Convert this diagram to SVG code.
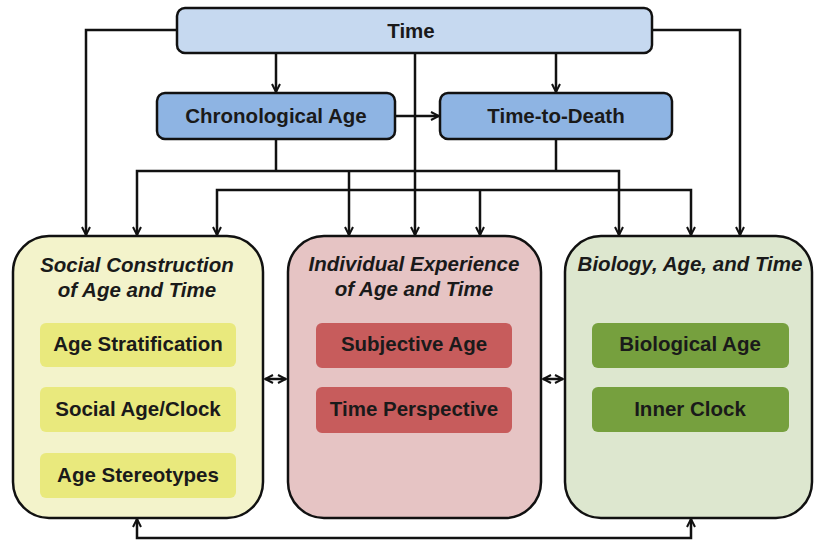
<svg xmlns="http://www.w3.org/2000/svg" width="815" height="543" viewBox="0 0 815 543">
  <style>
    text { font-family: "Liberation Sans", Arial, sans-serif; font-weight: bold; font-size: 20.5px; fill: #1a1a1a; text-anchor: middle; dominant-baseline: central; }
    .title { font-style: italic; dominant-baseline: alphabetic; }
    .box { stroke: #111; stroke-width: 2.5; }
    .conn { fill: none; stroke: #111; stroke-width: 2.5; }
    .time { fill: #c6d9f0; }
    .mid { fill: #8eb4e3; }
    .social { fill: #f3f3cb; }
    .social-in { fill: #e9e97d; }
    .indiv { fill: #e6c4c4; }
    .indiv-in { fill: #c75c5c; }
    .bio { fill: #dde7cf; }
    .bio-in { fill: #76a03e; }
  </style>
  <defs>
    <marker id="arrow" viewBox="0 0 10 10" refX="9" refY="5" markerWidth="4" markerHeight="4" orient="auto-start-reverse" markerUnits="strokeWidth">
      <path d="M1,1 L9,5 L1,9" fill="none" stroke="#111" stroke-width="2"/>
    </marker>
  </defs>

  <rect width="815" height="543" fill="#ffffff"/>

  <!-- connectors -->
  <g id="connectors" class="conn">
    <!-- Time to the three domains -->
    <path d="M177,30 H86 V235" marker-end="url(#arrow)"/>
    <path d="M652,30 H740 V235" marker-end="url(#arrow)"/>
    <path d="M415,53 V235" marker-end="url(#arrow)"/>
    <!-- Time to the two age measures -->
    <path d="M276,53 V92" marker-end="url(#arrow)"/>
    <path d="M556,53 V92" marker-end="url(#arrow)"/>
    <!-- Chronological Age to Time-to-Death -->
    <path d="M395,116 H439" marker-end="url(#arrow)"/>
    <!-- distribution bus at y=171 -->
    <path d="M276,139 V171"/>
    <path d="M556,139 V171"/>
    <path d="M137,235 V171 H619 V235" marker-start="url(#arrow)" marker-end="url(#arrow)"/>
    <path d="M349,171 V235" marker-end="url(#arrow)"/>
    <!-- distribution bus at y=190 -->
    <path d="M217,235 V190 H691 V235" marker-start="url(#arrow)" marker-end="url(#arrow)"/>
    <path d="M480,190 V235" marker-end="url(#arrow)"/>
    <!-- links between the domains -->
    <path d="M265,379 H286" marker-start="url(#arrow)" marker-end="url(#arrow)"/>
    <path d="M543,379 H563" marker-start="url(#arrow)" marker-end="url(#arrow)"/>
    <path d="M137,519 V538 H691 V519" marker-start="url(#arrow)" marker-end="url(#arrow)"/>
  </g>

  <g id="time">
    <rect class="box time" x="177" y="8" width="475" height="45" rx="8"/>
    <text x="411" y="30">Time</text>
  </g>

  <g id="chronological-age">
    <rect class="box mid" x="157" y="93" width="238" height="46" rx="8"/>
    <text x="276" y="115">Chronological Age</text>
  </g>

  <g id="time-to-death">
    <rect class="box mid" x="440" y="93" width="232" height="46" rx="8"/>
    <text x="556" y="115">Time-to-Death</text>
  </g>

  <g id="social">
    <rect class="box social" x="13" y="236" width="250" height="282" rx="36"/>
    <text class="title" x="137" y="272">Social Construction</text>
    <text class="title" x="137" y="297">of Age and Time</text>
    <rect class="social-in" x="40" y="323" width="196" height="44" rx="6"/>
    <text x="138" y="343">Age Stratification</text>
    <rect class="social-in" x="40" y="387" width="196" height="45" rx="6"/>
    <text x="138" y="408">Social Age/Clock</text>
    <rect class="social-in" x="40" y="453" width="196" height="45" rx="6"/>
    <text x="138" y="474">Age Stereotypes</text>
  </g>

  <g id="individual">
    <rect class="box indiv" x="288" y="236" width="253" height="282" rx="36"/>
    <text class="title" x="414" y="271">Individual Experience</text>
    <text class="title" x="414" y="296">of Age and Time</text>
    <rect class="indiv-in" x="316" y="323" width="196" height="45" rx="6"/>
    <text x="414" y="343">Subjective Age</text>
    <rect class="indiv-in" x="316" y="387" width="196" height="46" rx="6"/>
    <text x="414" y="408">Time Perspective</text>
  </g>

  <g id="biology">
    <rect class="box bio" x="565" y="236" width="247" height="282" rx="36"/>
    <text class="title" x="690" y="271">Biology, Age, and Time</text>
    <rect class="bio-in" x="592" y="323" width="197" height="45" rx="6"/>
    <text x="690" y="343">Biological Age</text>
    <rect class="bio-in" x="592" y="387" width="197" height="45" rx="6"/>
    <text x="690" y="408">Inner Clock</text>
  </g>
</svg>
